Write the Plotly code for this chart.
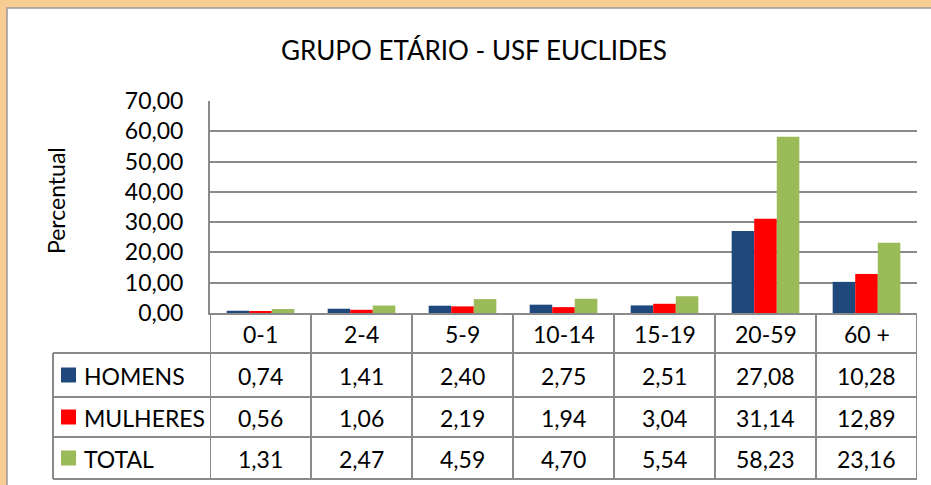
import plotly.graph_objects as go

# ---- data ----
categories = ["0-1", "2-4", "5-9", "10-14", "15-19", "20-59", "60 +"]
series_names = ["HOMENS", "MULHERES", "TOTAL"]
homens = [0.74, 1.41, 2.40, 2.75, 2.51, 27.08, 10.28]
mulheres = [0.56, 1.06, 2.19, 1.94, 3.04, 31.14, 12.89]
total = [1.31, 2.47, 4.59, 4.70, 5.54, 58.23, 23.16]
y_ticks = [0, 10, 20, 30, 40, 50, 60, 70]

colors = ["#1F497D", "#FF0000", "#9BBB59"]
series_values = [homens, mulheres, total]

W, H = 931, 485
L, R, T, B = 210, 14, 101, 6
PW = W - L - R
PH = H - T - B
FONT = "Lato"
LINE = "#8a8a8a"


def xp(px):
    return (px - L) / PW


def yp(py):
    return (H - B - py) / PH


zero_px = 313
row_edges = [313, 353, 397, 437, 479]

fig = go.Figure()
for name, vals, col in zip(series_names, series_values, colors):
    fig.add_trace(go.Bar(x=categories, y=vals, name=name, marker_color=col,
                         marker_line_width=0, showlegend=False))

shapes = []
# white chart box over the orange background
shapes.append(dict(type="rect", xref="paper", yref="paper",
                   x0=xp(7), x1=xp(940), y0=yp(495), y1=yp(8),
                   fillcolor="white", line=dict(color="#9a9a9a", width=1.5),
                   layer="below"))
# vertical table dividers (category boundaries)
for i in range(len(categories) + 1):
    shapes.append(dict(type="line", xref="x", yref="paper",
                       x0=i - 0.5, x1=i - 0.5, y0=yp(row_edges[-1]), y1=yp(zero_px),
                       line=dict(color=LINE, width=2)))
# horizontal table lines
for py in row_edges[1:]:
    shapes.append(dict(type="line", xref="paper", yref="paper",
                       x0=xp(53), x1=1, y0=yp(py), y1=yp(py),
                       line=dict(color=LINE, width=2)))
# left border of legend column
shapes.append(dict(type="line", xref="paper", yref="paper",
                   x0=xp(53), x1=xp(53), y0=yp(row_edges[-1]), y1=yp(row_edges[1]),
                   line=dict(color=LINE, width=2)))

annotations = []
annotations.append(dict(text="GRUPO ETÁRIO - USF EUCLIDES", xref="paper", yref="paper",
                        x=xp(474), y=yp(50), showarrow=False,
                        xanchor="center", yanchor="middle",
                        font=dict(family=FONT, size=26, color="#000000")))
annotations.append(dict(text="Percentual", xref="paper", yref="paper",
                        x=xp(56), y=yp(201), showarrow=False, textangle=-90,
                        xanchor="center", yanchor="middle",
                        font=dict(family=FONT, size=23, color="#000000")))
hc = (row_edges[0] + row_edges[1]) / 2
for c in categories:
    annotations.append(dict(text=c, xref="x", yref="paper", x=c, y=yp(hc + 1),
                            showarrow=False, xanchor="center", yanchor="middle",
                            font=dict(family=FONT, size=23, color="#000000")))
for r, (name, vals, col) in enumerate(zip(series_names, series_values, colors)):
    top, bot = row_edges[r + 1], row_edges[r + 2]
    cy = (top + bot) / 2
    for c, v in zip(categories, vals):
        annotations.append(dict(text=f"{v:.2f}".replace(".", ","), xref="x", yref="paper",
                                x=c, y=yp(cy + 1), showarrow=False,
                                xanchor="center", yanchor="middle",
                                font=dict(family=FONT, size=23, color="#000000")))
    shapes.append(dict(type="rect", xref="paper", yref="paper",
                       x0=xp(61), x1=xp(76), y0=yp(cy + 7.5), y1=yp(cy - 7.5),
                       fillcolor=col, line=dict(width=0)))
    annotations.append(dict(text=name, xref="paper", yref="paper",
                            x=xp(82), y=yp(cy + 1), showarrow=False,
                            xanchor="left", yanchor="middle",
                            font=dict(family=FONT, size=23, color="#000000")))

fig.update_layout(
    width=W, height=H,
    margin=dict(l=L, r=R, t=T, b=B, pad=0, autoexpand=False),
    paper_bgcolor="#f7cd94",
    plot_bgcolor="white",
    separators=",.",
    barmode="group",
    bargap=0.33,
    bargroupgap=0,
    shapes=shapes,
    annotations=annotations,
    font=dict(family=FONT, size=23, color="#000000"),
    xaxis=dict(showticklabels=False, showgrid=False, showline=True,
               linecolor=LINE, linewidth=2, ticks="", zeroline=False,
               automargin=False,
               range=[-0.5, len(categories) - 0.5], fixedrange=True),
    yaxis=dict(domain=[yp(zero_px), 1], range=[0, 70], tickvals=y_ticks,
               tickformat=".2f", showgrid=True, gridcolor=LINE, gridwidth=2,
               showline=True, linecolor=LINE, linewidth=2, zeroline=False,
               automargin=False,
               ticks="", ticklabelstandoff=20,
               tickfont=dict(family=FONT, size=23, color="#000000")),
)

post = """
document.documentElement.style.margin='0';
document.body.style.margin='0';
document.body.style.background='#f7cd94';
"""
fig.write_html("out.html", config={"displayModeBar": False}, post_script=post)
